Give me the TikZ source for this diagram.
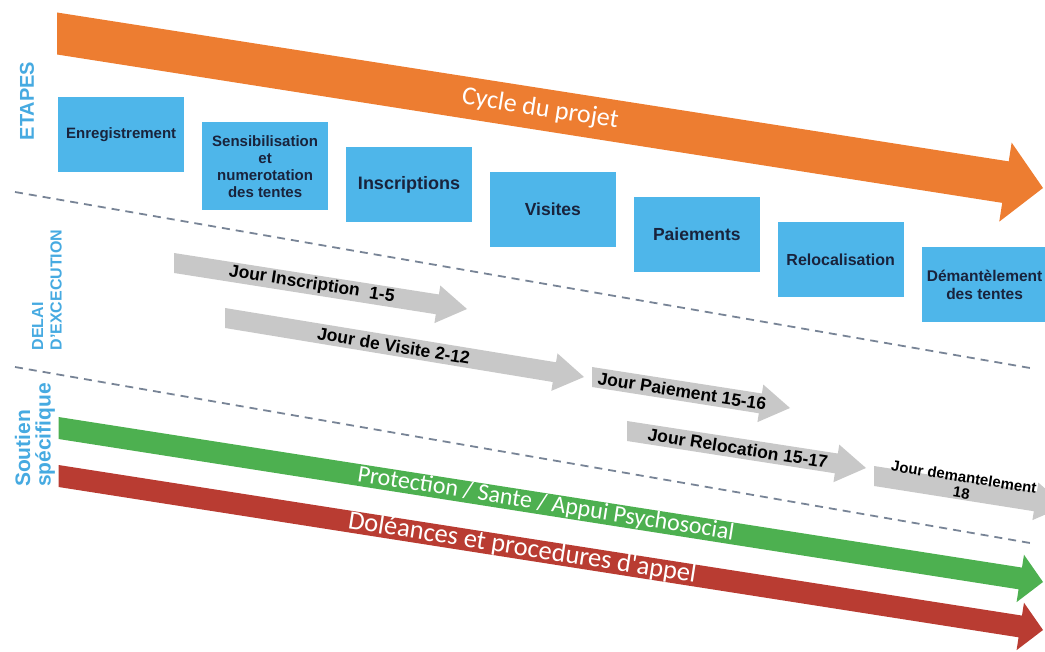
\documentclass[tikz,border=0pt]{standalone}
\usepackage{fontspec}
\setmainfont{Liberation Sans}
\newfontfamily\calibri{Carlito}
\usetikzlibrary{calc,positioning}

\definecolor{cycleorange}{RGB}{237,125,49}
\definecolor{etapeblue}{RGB}{78,182,234}
\definecolor{etapetext}{RGB}{25,35,60}
\definecolor{jourgray}{RGB}{200,200,200}
\definecolor{soutiengreen}{RGB}{77,176,80}
\definecolor{appelred}{RGB}{185,60,50}
\definecolor{labelblue}{RGB}{70,170,225}
\definecolor{sepgray}{RGB}{120,132,150}

% thick arrow: style, start, tip, half width, head half width, head length
\newcommand{\bande}[6]{%
  \coordinate (hb) at ($(#3)!#6pt!(#2)$);
  \fill[#1] ($(#2)+(0,-#4)$) -- ($(hb)!#4pt!90:(#3)$) -- ($(hb)!#5pt!90:(#3)$) -- (#3)
    -- ($(hb)!#5pt!-90:(#3)$) -- ($(hb)!#4pt!-90:(#3)$) -- ($(#2)+(0,#4)$) -- cycle;
}

\begin{document}
\begin{tikzpicture}[x=1pt,y=-1pt,
    etape/.style={fill=etapeblue, text=etapetext, align=center, inner sep=1pt,
      minimum width=126pt, minimum height=75pt,
      font=\bfseries\fontsize{17.5}{19}\selectfont},
    jour/.style={sloped, pos=.47, align=center, font=\bfseries\fontsize{17.5}{19}\selectfont},
    bandtext/.style={sloped, text=white, inner sep=0pt},
    section/.style={rotate=90, text=labelblue, align=left},
    sep/.style={draw=sepgray, line width=1.8pt, dash pattern=on 8pt off 6pt},
    node distance=17.5pt]

  \useasboundingbox (0,0) rectangle (1045,652);
  \clip (0,0) rectangle (1045,652);

  % separators
  \coordinate (s1a) at (15,192);
  \coordinate (s1b) at (1030,368);
  \coordinate (s2a) at (15,367);
  \coordinate (s2b) at (1030,543);
  \draw[sep] (s1a) -- (s1b);
  \draw[sep] (s2a) -- (s2b);

  % big bands
  \coordinate (cyc-a) at (57,33.5);
  \coordinate (cyc-b) at (1043,188);
  \bande{cycleorange}{cyc-a}{cyc-b}{21}{40}{38}
  \path (cyc-a) -- (cyc-b) node[bandtext, pos=.49, font=\calibri\fontsize{26}{28}\selectfont] (cyc) {Cycle du projet};

  \coordinate (prot-a) at (58.5,428);
  \coordinate (prot-b) at (1043,582);
  \bande{soutiengreen}{prot-a}{prot-b}{11}{24}{23}
  \path (prot-a) -- (prot-b) node[bandtext, pos=.495, font=\calibri\fontsize{24}{26}\selectfont] (prot) {Protection / Sante / Appui Psychosocial};

  \coordinate (dol-a) at (58.5,476);
  \coordinate (dol-b) at (1043,630);
  \bande{appelred}{dol-a}{dol-b}{11}{24}{23}
  \path (dol-a) -- (dol-b) node[bandtext, pos=.471, font=\calibri\fontsize{26.5}{28}\selectfont] (dol) {Doléances et procedures d'appel};

  % etapes
  \node[etape, anchor=north west, font=\bfseries\fontsize{15}{17}\selectfont] (e1) at (58,97) {Enregistrement};
  \node[etape, right=of e1.north east, anchor=north west, yshift=-25pt, minimum height=88pt,
    font=\bfseries\fontsize{15}{17}\selectfont] (e2) {Sensibilisation\\et\\numerotation\\des tentes};
  \node[etape, right=of e2.north east, anchor=north west, yshift=-25pt,
    font=\bfseries\fontsize{18}{20}\selectfont] (e3) {Inscriptions};
  \node[etape, right=of e3.north east, anchor=north west, yshift=-25pt] (e4) {Visites};
  \node[etape, right=of e4.north east, anchor=north west, yshift=-25pt] (e5) {Paiements};
  \node[etape, right=of e5.north east, anchor=north west, yshift=-25pt,
    font=\bfseries\fontsize{16}{18}\selectfont] (e6) {Relocalisation};
  \node[etape, right=of e6.north east, anchor=north west, yshift=-25pt,
    font=\bfseries\fontsize{15.5}{18}\selectfont] (e7) {Démantèlement\\des tentes};

  % delais
  \coordinate (j1a) at (174,263);
  \coordinate (j1b) at (467,309);
  \bande{jourgray}{j1a}{j1b}{10}{19}{30}
  \path (j1a) -- (j1b) node[jour] (j1) {Jour Inscription~ 1-5};

  \coordinate (j2a) at (225,318);
  \coordinate (j2b) at (584,377);
  \bande{jourgray}{j2a}{j2b}{10}{19}{30}
  \path (j2a) -- (j2b) node[jour] (j2) {Jour de Visite 2-12};

  \coordinate (j3a) at (592,377);
  \coordinate (j3b) at (790,408);
  \bande{jourgray}{j3a}{j3b}{10}{19}{30}
  \path (j3a) -- (j3b) node[jour, pos=.455] (j3) {Jour Paiement 15-16};

  \coordinate (j4a) at (627,431);
  \coordinate (j4b) at (866,468);
  \bande{jourgray}{j4a}{j4b}{10}{19}{30}
  \path (j4a) -- (j4b) node[jour, pos=.464] (j4) {Jour Relocation 15-17};

  \coordinate (j5a) at (874,476);
  \coordinate (j5b) at (1065,506);
  \bande{jourgray}{j5a}{j5b}{10}{19}{30}
  \path (j5a) -- (j5b) node[jour, pos=.46, yshift=5pt, inner sep=0pt, font=\bfseries\fontsize{15}{16}\selectfont] (j5) {Jour demantelement\\18};

  % sections
  \node[section, font=\bfseries\fontsize{20}{22}\selectfont] (etapes) at (27,101) {ETAPES};
  \node[section, font=\bfseries\fontsize{16}{18.5}\selectfont] (delai) at (47,290) {DELAI\\D'EXCECUTION};
  \node[section, font=\bfseries\fontsize{21}{20.5}\selectfont] (soutien) at (35,435) {Soutien\\spécifique};
\end{tikzpicture}
\end{document}
